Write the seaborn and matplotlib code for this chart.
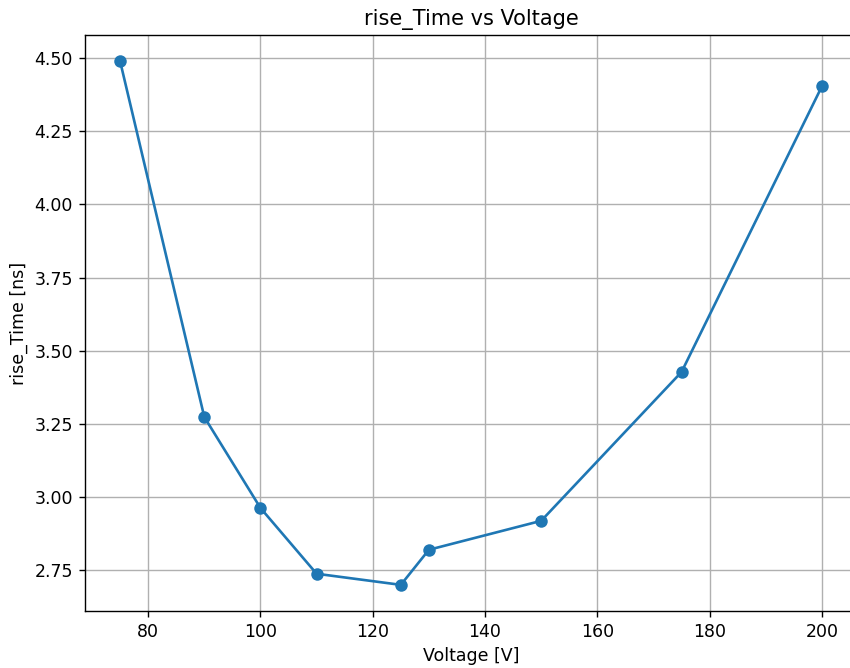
import matplotlib
matplotlib.use("Agg")
import matplotlib.pyplot as plt
import seaborn as sns
import pandas as pd

voltage = [75, 90, 100, 110, 125, 130, 150, 175, 200]
rise_time = [4.490, 3.273, 2.962, 2.737, 2.699, 2.819, 2.918, 3.427, 4.404]

df = pd.DataFrame({"Voltage": voltage, "rise_Time": rise_time})

fig = plt.figure(figsize=(8.5, 6.68), dpi=100)
ax = fig.add_axes([85 / 850, 57 / 668, 772 / 850, 576 / 668])
sns.lineplot(data=df, x="Voltage", y="rise_Time", marker="o", markersize=9,
             markeredgewidth=0, color="#1f77b4", linewidth=1.9, sort=False, ax=ax)
ax.set_xlim(68.75, 206.25)
ax.set_ylim(2.6096, 4.5795)
ax.set_yticks([2.75, 3.0, 3.25, 3.5, 3.75, 4.0, 4.25, 4.5])
ax.set_xticks([80, 100, 120, 140, 160, 180, 200])
ax.grid(True, color="#b0b0b0", linewidth=1.0)
ax.set_axisbelow(True)
for s in ax.spines.values():
    s.set_linewidth(1.0)
ax.tick_params(labelsize=12.5, length=4.3, width=1.0, pad=4.3)
ax.set_title("rise_Time vs Voltage", fontsize=15, pad=7.5)
ax.set_xlabel("Voltage [V]", fontsize=12.5, labelpad=4.5)
ax.set_ylabel("rise_Time [ns]", fontsize=12.5, labelpad=4.5)
fig.savefig("out.png", dpi=100)
